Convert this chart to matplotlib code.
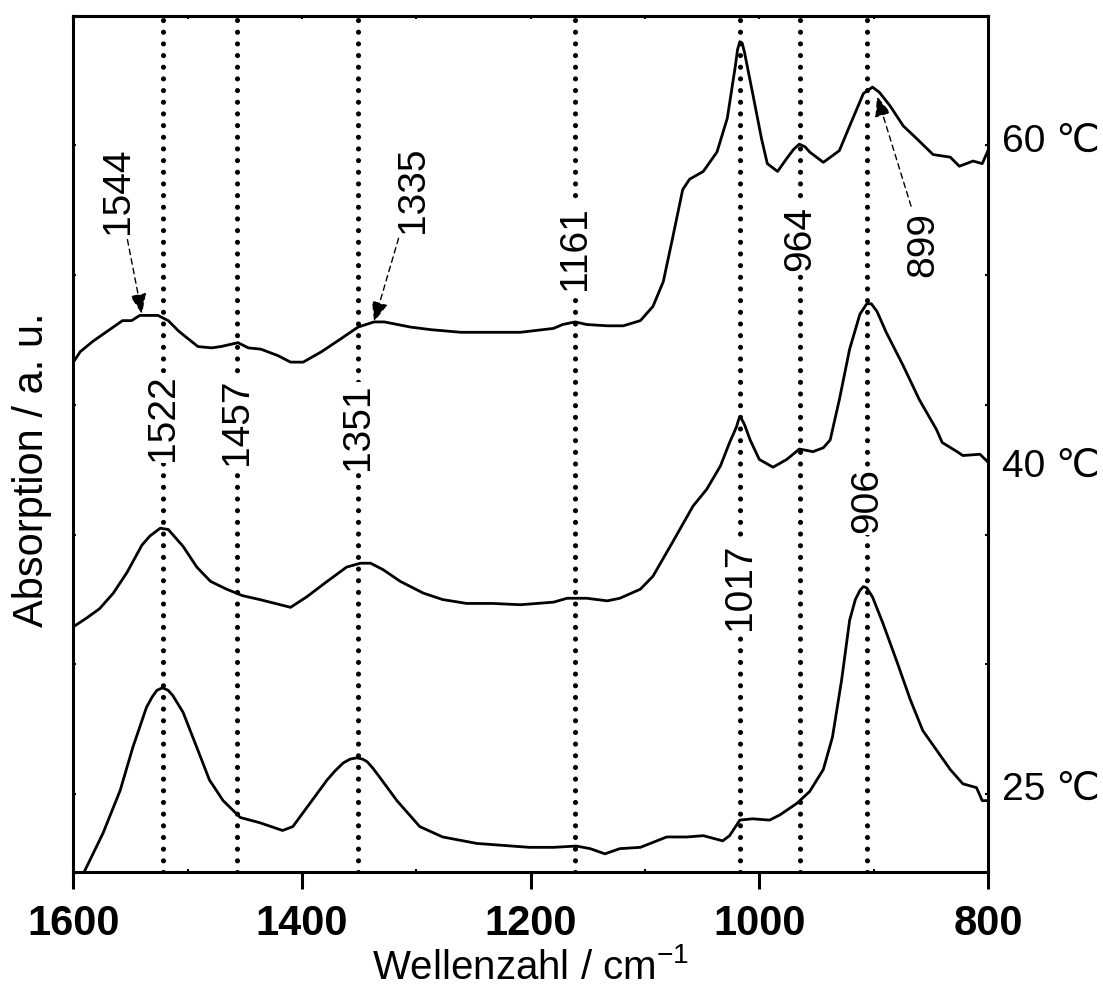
import numpy as np
import matplotlib
matplotlib.use("Agg")
import matplotlib.pyplot as plt

plt.rcParams['font.family'] = ['Liberation Sans', 'DejaVu Sans']
plt.rcParams['mathtext.default'] = 'regular'

# ---------------- data ----------------
wn60 = [1600, 1594, 1583, 1570, 1557, 1549, 1542, 1526, 1517, 1508,
        1501, 1491, 1479, 1471, 1456, 1447, 1436, 1421, 1410, 1399,
        1383, 1366, 1351, 1337, 1328, 1305, 1287, 1261, 1232, 1209,
        1180, 1172, 1161, 1151, 1133, 1119, 1104, 1093, 1084, 1076,
        1067, 1061, 1049, 1037, 1028, 1021, 1019, 1017, 1015, 1013,
        1006, 998, 993, 984, 976, 970, 965, 960, 956, 944,
        930, 921, 909, 901, 895, 886, 874, 862, 848, 833,
        825, 813, 805, 800]
a60 = [4.33, 4.41, 4.49, 4.57, 4.65, 4.65, 4.69, 4.69, 4.65, 4.57,
       4.52, 4.45, 4.44, 4.45, 4.48, 4.44, 4.43, 4.38, 4.33, 4.33,
       4.41, 4.51, 4.60, 4.64, 4.64, 4.60, 4.58, 4.56, 4.56, 4.56,
       4.59, 4.62, 4.64, 4.62, 4.61, 4.61, 4.65, 4.76, 4.95, 5.28,
       5.66, 5.74, 5.80, 5.95, 6.21, 6.61, 6.74, 6.80, 6.79, 6.72,
       6.41, 6.05, 5.86, 5.80, 5.90, 5.97, 6.01, 5.99, 5.95, 5.87,
       5.96, 6.15, 6.40, 6.45, 6.41, 6.31, 6.15, 6.05, 5.93, 5.91,
       5.84, 5.88, 5.86, 5.96]

wn40 = [1600, 1588, 1577, 1565, 1553, 1540, 1533, 1524, 1517, 1504,
        1492, 1480, 1466, 1452, 1437, 1410, 1396, 1378, 1361, 1349,
        1340, 1329, 1314, 1294, 1277, 1256, 1233, 1209, 1180, 1168,
        1151, 1133, 1122, 1104, 1093, 1076, 1058, 1046, 1034, 1026,
        1020, 1018, 1016, 1013, 1008, 1000, 988, 976, 965, 953,
        944, 938, 930, 921, 912, 906, 902, 897, 889, 874,
        860, 845, 840, 827, 822, 807, 800]
a40 = [2.29, 2.36, 2.43, 2.55, 2.71, 2.92, 2.99, 3.05, 3.04, 2.91,
       2.75, 2.64, 2.58, 2.53, 2.50, 2.44, 2.52, 2.64, 2.75, 2.78,
       2.78, 2.73, 2.64, 2.55, 2.50, 2.47, 2.47, 2.46, 2.48, 2.51,
       2.51, 2.49, 2.51, 2.58, 2.68, 2.94, 3.22, 3.35, 3.53, 3.71,
       3.83, 3.89, 3.90, 3.85, 3.73, 3.58, 3.52, 3.58, 3.66, 3.64,
       3.67, 3.73, 4.04, 4.43, 4.70, 4.78, 4.78, 4.72, 4.56, 4.30,
       4.04, 3.81, 3.71, 3.64, 3.61, 3.62, 3.56]

wn25 = [1600, 1590, 1574, 1559, 1548, 1536, 1531, 1527, 1522, 1517,
        1513, 1504, 1492, 1481, 1469, 1454, 1437, 1417, 1408, 1393,
        1378, 1371, 1364, 1358, 1352, 1347, 1343, 1338, 1332, 1317,
        1297, 1277, 1247, 1201, 1180, 1160, 1148, 1135, 1122, 1104,
        1081, 1063, 1049, 1032, 1026, 1017, 1006, 991, 982, 967,
        956, 944, 936, 928, 921, 916, 912, 909, 906, 901,
        892, 880, 868, 857, 845, 833, 822, 810, 805, 800]
a25 = [0.22, 0.41, 0.70, 1.03, 1.36, 1.67, 1.75, 1.80, 1.82, 1.80,
       1.76, 1.63, 1.36, 1.11, 0.95, 0.82, 0.78, 0.72, 0.75, 0.93,
       1.11, 1.18, 1.24, 1.27, 1.28, 1.27, 1.25, 1.20, 1.13, 0.95,
       0.75, 0.67, 0.62, 0.59, 0.59, 0.60, 0.58, 0.54, 0.58, 0.59,
       0.67, 0.67, 0.68, 0.64, 0.68, 0.80, 0.81, 0.80, 0.84, 0.93,
       1.02, 1.19, 1.44, 1.88, 2.34, 2.50, 2.57, 2.60, 2.59, 2.52,
       2.32, 2.03, 1.73, 1.49, 1.34, 1.19, 1.08, 1.05, 0.95, 0.95]

# marked bands: wavenumber, label y-position
band_wn = [1522, 1457, 1351, 1161, 1017, 964, 906]
band_label_y = [3.90, 3.87, 3.83, 5.21, 2.60, 5.28, 3.26]

# arrow annotations: label, target (wn, y), text position (wn, y)
arrow_labels = ['1544', '1335', '899']
arrow_xy = [(1540, 4.70), (1337, 4.64), (897, 6.38)]
arrow_text_xy = [(1561, 5.65), (1303, 5.66), (857, 5.24)]

temps = ['60 \u2103', '40 \u2103', '25 \u2103']
temp_y = [6.03, 3.52, 1.03]

# ---------------- figure ----------------
fig = plt.figure(figsize=(11.03, 9.90), dpi=100)
ax = fig.add_axes([0.0665, 0.1192, 0.8292, 0.8649])

ax.set_xlim(1600, 800)
ax.set_ylim(0.4, 7.0)

for w, ly in zip(band_wn, band_label_y):
    ax.axvline(w, color='black', lw=3.7, linestyle=(0, (0.001, 2.27)),
               dash_capstyle='round', zorder=1)
    ax.text(w, ly, str(w), rotation=90, ha='center', va='center',
            fontsize=28, zorder=4,
            bbox=dict(facecolor='white', edgecolor='none', pad=1.5))

for wn, a in [(wn60, a60), (wn40, a40), (wn25, a25)]:
    ax.plot(wn, a, color='black', lw=2.0, zorder=3, solid_joinstyle='round')

for lab, xy, txy in zip(arrow_labels, arrow_xy, arrow_text_xy):
    ax.annotate(lab, xy=xy, xytext=txy, rotation=90, ha='center', va='center',
                fontsize=28, zorder=5,
                arrowprops=dict(arrowstyle='-|>,head_length=0.5,head_width=0.2',
                                color='black', lw=1.0,
                                linestyle=(0, (4, 3)), mutation_scale=25,
                                shrinkA=2, shrinkB=0))

for t, y in zip(temps, temp_y):
    ax.text(1.0153, y, t, transform=ax.get_yaxis_transform(), ha='left',
            va='center', fontsize=28, clip_on=False)

# axes styling
for s in ax.spines.values():
    s.set_linewidth(2.2)

ax.set_xticks([1600, 1400, 1200, 1000, 800])
ax.set_xticks(np.arange(800, 1601, 100), minor=True)
ax.tick_params(axis='x', which='major', direction='out', length=12, width=2.2,
               labelsize=30, pad=11)
ax.tick_params(axis='x', which='minor', direction='in', length=2.5, width=1.5)
for lbl in ax.get_xticklabels():
    lbl.set_fontweight('bold')

ax.set_yticks([1, 2, 3, 4, 5, 6, 7])
ax.tick_params(axis='y', which='major', direction='in', length=2.5, width=1.5,
               left=True, right=True, labelleft=False)

secax = ax.secondary_xaxis('top')
secax.set_xticks(np.arange(800, 1601, 100))
secax.tick_params(direction='in', length=2.5, width=1.5, labeltop=False)
secax.spines['top'].set_linewidth(2.2)

ax.set_xlabel('Wellenzahl / cm$^{-1}$', fontsize=29, va='baseline')
ax.xaxis.set_label_coords(0.5, -0.125)
ax.set_ylabel('Absorption / a. u.', fontsize=30, va='baseline')
ax.yaxis.set_label_coords(-0.033, 0.47)

fig.savefig('out.png', dpi=100)
